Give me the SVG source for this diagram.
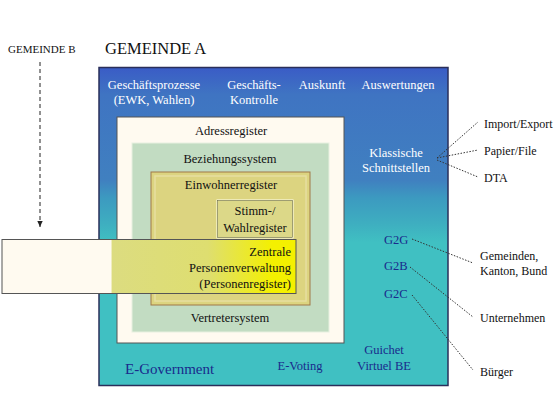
<svg xmlns="http://www.w3.org/2000/svg" width="560" height="420" viewBox="0 0 560 420">
<defs>
<linearGradient id="gOuter" x1="0" y1="0" x2="0" y2="1">
<stop offset="0" stop-color="#3a5cc6"/>
<stop offset="0.085" stop-color="#3f74c2"/>
<stop offset="0.355" stop-color="#4080c0"/>
<stop offset="0.41" stop-color="#3c9ac0"/>
<stop offset="0.49" stop-color="#3eaec0"/>
<stop offset="0.55" stop-color="#40c0c2"/>
<stop offset="1" stop-color="#40c0c2"/>
</linearGradient>
<linearGradient id="gZPV" x1="0" y1="0" x2="1" y2="0">
<stop offset="0" stop-color="#fffaf0"/>
<stop offset="0.372" stop-color="#fffaf0"/>
<stop offset="0.373" stop-color="#dcdc80"/>
<stop offset="0.7" stop-color="#dede70"/>
<stop offset="0.92" stop-color="#f4f000"/>
<stop offset="1" stop-color="#f4f000"/>
</linearGradient>
<marker id="arrow" viewBox="0 0 10 10" refX="9" refY="5" markerWidth="7" markerHeight="7" orient="auto">
<path d="M0,1 L9,5 L0,9 z" fill="#222"/>
</marker>
<style>
text{font-family:"Liberation Serif","Times New Roman",serif;}
.w{fill:#ffffff;font-size:12.5px;}
.k{fill:#111;font-size:12.5px;}
.n{fill:#1a2a8c;font-size:12.5px;}
.r{fill:#111;font-size:12px;}
.c{text-anchor:middle;}
.dot{stroke:#333;stroke-width:1;stroke-dasharray:1.5 1.5;fill:none;}
</style>
</defs>
<rect width="560" height="420" fill="#ffffff"/>

<g id="gemeinde-b">
<text x="8" y="53" style="font-size:11px" fill="#111">GEMEINDE B</text>
</g>
<g id="gemeinde-a">
<text x="105" y="54" style="font-size:16.5px" fill="#111">GEMEINDE A</text>
</g>

<g id="outer-box">
<rect x="99" y="67.5" width="349" height="318" fill="url(#gOuter)" stroke="#2a2f5a" stroke-width="1.5"/>
<text class="w c" x="154" y="89">Geschäftsprozesse</text>
<text class="w c" x="154" y="104">(EWK, Wahlen)</text>
<text class="w c" x="254" y="89">Geschäfts-</text>
<text class="w c" x="254" y="104">Kontrolle</text>
<text class="w c" x="322" y="89">Auskunft</text>
<text class="w c" x="398" y="89">Auswertungen</text>
<text class="w c" x="396" y="157">Klassische</text>
<text class="w c" x="396" y="172">Schnittstellen</text>
<text class="n" x="384" y="244">G2G</text>
<text class="n" x="384" y="270">G2B</text>
<text class="n" x="384" y="298">G2C</text>
<text class="n" x="125" y="374" style="font-size:15px">E-Government</text>
<text class="n c" x="300" y="370">E-Voting</text>
<text class="n c" x="384" y="354">Guichet</text>
<text class="n c" x="384" y="370">Virtuel BE</text>
</g>

<g id="adressregister">
<rect x="117" y="117" width="227" height="226" fill="#fffaf0" stroke="#555" stroke-width="1"/>
<text class="k c" x="231" y="135">Adressregister</text>
</g>

<g id="beziehungssystem">
<rect x="132" y="143" width="197" height="189" fill="#c2dcc2" stroke="#e8f0e0" stroke-width="1"/>
<text class="k c" x="230" y="163">Beziehungssystem</text>
<text class="k c" x="230" y="322">Vertretersystem</text>
</g>

<g id="einwohnerregister">
<rect x="151" y="172" width="159" height="133" fill="#dcd480" stroke="#a07848" stroke-width="1"/>
<rect x="155" y="176" width="151" height="125" fill="none" stroke="#e6dea0" stroke-width="1.5"/>
<text class="k c" x="231" y="189">Einwohnerregister</text>
</g>

<g id="stimm-wahlregister">
<rect x="217" y="200" width="76" height="38" fill="#dcd888" stroke="#fffff0" stroke-width="1"/>
<rect x="217.5" y="200.5" width="75" height="37" fill="none" stroke="#6a6a40" stroke-width="0.6"/>
<text class="k c" x="255" y="215">Stimm-/</text>
<text class="k c" x="255" y="232">Wahlregister</text>
</g>

<g id="zentrale-personenverwaltung">
<rect x="2" y="239.5" width="294" height="54" fill="url(#gZPV)" stroke="#555" stroke-width="1"/>
<text class="k" x="291" y="256" text-anchor="end">Zentrale</text>
<text class="k" x="291" y="272" text-anchor="end">Personenverwaltung</text>
<text class="k" x="291" y="288" text-anchor="end">(Personenregister)</text>
</g>

<g id="labels-right">
<text class="r" x="484" y="128">Import/Export</text>
<text class="r" x="484" y="155">Papier/File</text>
<text class="r" x="484" y="182">DTA</text>
<text class="r" x="480" y="260">Gemeinden,</text>
<text class="r" x="480" y="275">Kanton, Bund</text>
<text class="r" x="480" y="322">Unternehmen</text>
<text class="r" x="480" y="376">Bürger</text>
</g>

<g id="connectors">
<line x1="40" y1="62" x2="40" y2="227" stroke="#222" stroke-width="1" stroke-dasharray="4 3" marker-end="url(#arrow)"/>
<line class="dot" x1="437" y1="158" x2="478" y2="122"/>
<line class="dot" x1="437" y1="158" x2="478" y2="150"/>
<line class="dot" x1="437" y1="160" x2="478" y2="177"/>
<line class="dot" x1="412" y1="239" x2="473" y2="263"/>
<line class="dot" x1="410" y1="267" x2="473" y2="317"/>
<line class="dot" x1="412" y1="295" x2="473" y2="370"/>
</g>
</svg>
